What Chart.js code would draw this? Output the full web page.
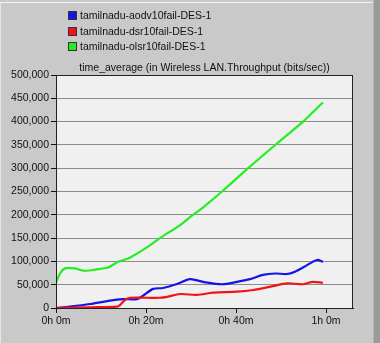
<!DOCTYPE html>
<html>
<head>
<meta charset="utf-8">
<script src="https://cdn.jsdelivr.net/npm/chart.js@4.4.1/dist/chart.umd.min.js"></script>
<style>
	html, body { margin: 0; padding: 0; }
	body { width: 380px; height: 343px; background: #c9c9c9; position: relative; overflow: hidden; font-family: "Liberation Sans", Arial, sans-serif; }
	#frame { position: absolute; left: 0; top: 2px; width: 373px; height: 341px; border-top: 1px solid #f2f2f2; border-left: 1px solid #e6e6e6; box-sizing: border-box; }
	#edge { position: absolute; right: 0; top: 0; width: 6px; height: 343px; background: #9a9a9a; border-left: 1px solid #b4b4b4; }
	#wrap { position: absolute; left: 0; top: 0; width: 380px; height: 343px; }
	#legend { position: absolute; left: 68px; top: 9px; font-size: 10.5px; color: #111; }
	#legend div { height: 15.5px; line-height: 13px; white-space: nowrap; }
	#legend span { display: inline-block; width: 7px; height: 7px; border: 1px solid #333; margin-right: 3px; vertical-align: -1px; }
	#title { position: absolute; left: 56px; width: 297px; top: 61px; text-align: center; font-size: 10.5px; color: #111; white-space: nowrap; }
</style>
</head>
<body>
<div id="frame"></div>
<div id="edge"></div>
<div id="wrap"><canvas id="chart" width="380" height="343"></canvas></div>
<div id="legend"></div>
<div id="title">time_average (in Wireless LAN.Throughput (bits/sec))</div>
<script>
// series names
const seriesNames = ["tamilnadu-aodv10fail-DES-1", "tamilnadu-dsr10fail-DES-1", "tamilnadu-olsr10fail-DES-1"]
const seriesColors = ["#1414e6", "#f01418", "#22ee22"]

// time in minutes, throughput in bits/sec
const aodvTime = [0, 3.1, 7.6, 12, 14.9, 18, 19.3, 21.6, 23.8, 26.9, 29.8, 32.7, 36.9, 40.2, 43.1, 46, 48.7, 51.3, 53.1, 55.8, 58, 59.3]
const aodvValues = [0, 3000, 8600, 16000, 19000, 19000, 26000, 41000, 43000, 51500, 62000, 56000, 51000, 56000, 62000, 71000, 74000, 73000, 78000, 92000, 103000, 99000]

const dsrTime = [0, 7.6, 13.6, 14.2, 15.3, 16.4, 20.2, 23.1, 24.7, 27.6, 31.3, 34.9, 40.2, 43.8, 48.2, 51.3, 54.9, 57.1, 59.3]
const dsrValues = [0, 1500, 3000, 6000, 17000, 22000, 22000, 22000, 24000, 30000, 28000, 33000, 35000, 38600, 47000, 53000, 51000, 56000, 54000]

const olsrTime = [0, 0.9, 2, 4.2, 6, 8.2, 9.8, 11.6, 13.8, 16.4, 20.2, 23.1, 27.6, 30.2, 32.7, 36.9, 42.7, 49.1, 54.9, 59.3]
const olsrValues = [54000, 74000, 85000, 85000, 80000, 81500, 84000, 87000, 99000, 108000, 130000, 150000, 178000, 198000, 216000, 250000, 300000, 353000, 400000, 441000]

const xTicks = [0, 20, 40, 60]

function toPoints(times, values) {
	return times.map((t, i) => ({ x: t, y: values[i] }))
}

// legend
const legendEl = document.getElementById("legend")
seriesNames.forEach((name, i) => {
	const row = document.createElement("div")
	row.innerHTML = `<span style="background:${seriesColors[i]}"></span>${name}`
	legendEl.appendChild(row)
})

// plot background and frame
const plotFrame = {
	id: "plotFrame",
	beforeDraw(chart) {
		const { ctx, chartArea: a } = chart
		ctx.save()
		ctx.fillStyle = "#f0f0f0"
		ctx.fillRect(a.left, a.top, a.right - a.left, a.bottom - a.top)
		ctx.restore()
	},
	afterDraw(chart) {
		const { ctx, chartArea: a } = chart
		ctx.save()
		ctx.strokeStyle = "#222"
		ctx.lineWidth = 1
		ctx.strokeRect(a.left + 0.5, a.top + 0.5, a.right - a.left - 1, a.bottom - a.top)
		ctx.restore()
	},
}

const datasets = [
	{ data: toPoints(aodvTime, aodvValues) },
	{ data: toPoints(dsrTime, dsrValues) },
	{ data: toPoints(olsrTime, olsrValues) },
].map((d, i) => ({
	label: seriesNames[i],
	data: d.data,
	borderColor: seriesColors[i],
	borderWidth: 2.2,
	pointRadius: 0,
	tension: 0.3,
	fill: false,
}))
// draw green first, blue on top
datasets.reverse()

new Chart(document.getElementById("chart").getContext("2d"), {
	type: "line",
	data: { datasets: datasets },
	options: {
		responsive: false,
		animation: false,
		layout: { padding: { top: 75, right: 27, left: 0, bottom: 0 } },
		plugins: { legend: { display: false }, tooltip: { enabled: false } },
		scales: {
			x: {
				type: "linear",
				min: 0,
				max: 66,
				afterBuildTicks: (scale) => {
					scale.ticks = xTicks.map((v) => ({ value: v }))
				},
				afterFit: (scale) => {
					scale.height = 35
				},
				ticks: {
					color: "#111",
					font: { family: "Liberation Sans", size: 10.5 },
					padding: 2,
					maxRotation: 0,
					callback: (v) => Math.floor(v / 60) + "h " + (v % 60) + "m",
				},
				grid: { drawOnChartArea: false, tickLength: 5, tickColor: "#111" },
				border: { color: "#111", width: 1 },
			},
			y: {
				min: 0,
				max: 500000,
				afterFit: (scale) => {
					scale.width = 56
				},
				ticks: {
					stepSize: 50000,
					color: "#111",
					font: { family: "Liberation Sans", size: 10.5 },
					padding: 2,
					callback: (v) => v.toLocaleString("en-US"),
				},
				grid: { color: "#8c8c8c", tickLength: 5, tickColor: "#111" },
				border: { color: "#111", width: 1 },
			},
		},
	},
	plugins: [plotFrame],
})
</script>
</body>
</html>
